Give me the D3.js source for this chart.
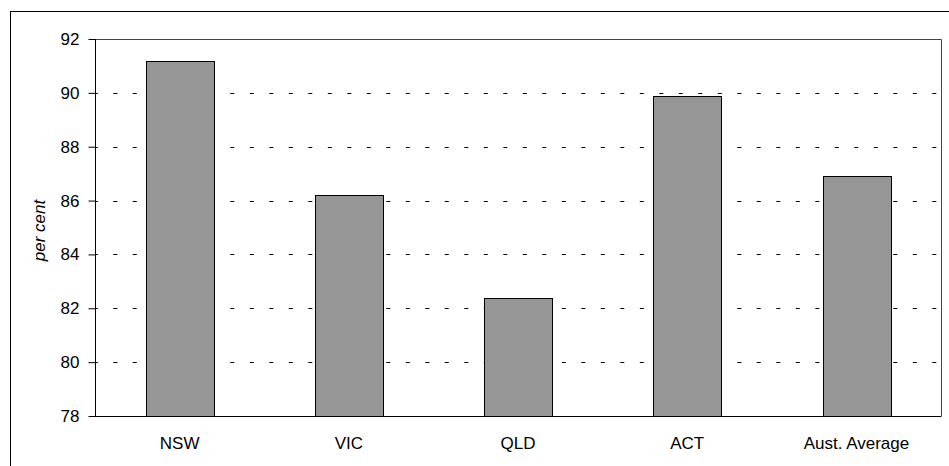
<!DOCTYPE html>
<html>
  <head>
    <script src="https://cdnjs.cloudflare.com/ajax/libs/d3/7.8.5/d3.min.js"></script>
    <style>
      body { margin: 0; background: #fff; }
      svg { display: block; font-family: Arial, "Liberation Sans", sans-serif; }
      rect.bar { fill: #969696; stroke: #000; stroke-width: 1; }
      line.grid { stroke: #000; stroke-width: 1; stroke-dasharray: 4 15.5; }
      .tick text { font-size: 17px; fill: #000; }
    </style>
  </head>
  <body>
    <svg width="949" height="466"></svg>
    <script>
      // states and their per cent values
      var categories = ["NSW", "VIC", "QLD", "ACT", "Aust. Average"];
      var values = [91.2, 86.2, 82.4, 89.9, 86.9];
      var yTicks = [78, 80, 82, 84, 86, 88, 90, 92];

      var svg = d3.select("svg");

      // outer chart border, runs off the right/bottom of the picture
      svg.append("rect")
        .attr("x", 10.5).attr("y", 11.5)
        .attr("width", 960).attr("height", 470)
        .attr("fill", "none").attr("stroke", "#000");

      var pLeft = 95, pTop = 39, pRight = 941, pBottom = 416;

      var x = d3.scaleBand().domain(categories).range([pLeft, pRight]).paddingInner(0.6).paddingOuter(0.3);
      var y = d3.scaleLinear().domain([78, 92]).range([pBottom, pTop]);

      // dashed gridlines
      svg.selectAll("line.grid")
        .data(yTicks.filter(d => d > 78 && d < 92))
        .enter().append("line")
        .attr("class", "grid")
        .attr("x1", pLeft).attr("x2", pRight)
        .attr("y1", d => Math.round(y(d)) + 0.5)
        .attr("y2", d => Math.round(y(d)) + 0.5)
        .attr("stroke-dashoffset", 1.2);

      // plot frame top / right
      svg.append("path")
        .attr("d", `M${pLeft},${pTop + 0.5}H${pRight + 0.5}V${pBottom}`)
        .attr("fill", "none").attr("stroke", "#444");

      svg.selectAll("rect.bar")
        .data(values)
        .enter().append("rect")
        .attr("class", "bar")
        .attr("x", (d, i) => Math.round(x(categories[i])) + 0.5)
        .attr("width", Math.round(x.bandwidth()))
        .attr("y", d => Math.round(y(d)) + 0.5)
        .attr("height", d => Math.round(pBottom - y(d)));

      var yAxis = svg.append("g")
        .attr("transform", `translate(${pLeft + 0.5},0)`)
        .call(d3.axisLeft(y).tickValues(yTicks).tickSize(7).tickPadding(9).tickFormat(d3.format("d")));
      yAxis.selectAll("line, path").attr("stroke", "#000");
      yAxis.select(".domain").attr("d", `M0,${pTop}V${pBottom + 0.5}`);

      var xAxis = svg.append("g")
        .attr("transform", `translate(0,${pBottom + 0.5})`)
        .call(d3.axisBottom(x).tickSize(0).tickPadding(20));
      xAxis.select(".domain").attr("stroke", "#000").attr("d", `M${pLeft},0H${pRight + 0.5}`);

      svg.append("text")
        .attr("transform", `translate(45,${(pTop + pBottom) / 2 + 3}) rotate(-90)`)
        .attr("text-anchor", "middle")
        .style("font-size", "17px")
        .style("font-style", "italic")
        .text("per cent");
    </script>
  </body>
</html>
